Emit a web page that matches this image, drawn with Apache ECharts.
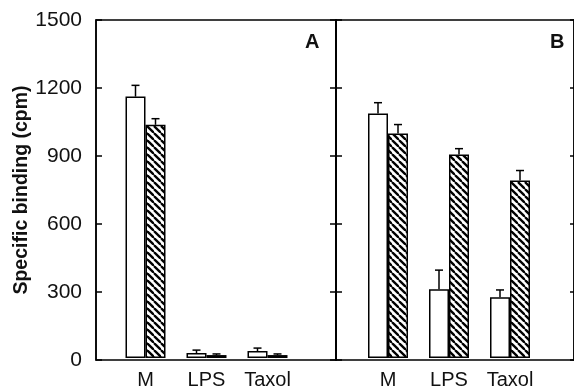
<!DOCTYPE html>
<html>
<head>
<meta charset="utf-8">
<script src="https://cdn.jsdelivr.net/npm/echarts@6/dist/echarts.min.js"></script>
<style>
    html, body { margin: 0; padding: 0; background: #fff; }
    #chart { width: 574px; height: 390px; }
</style>
</head>
<body>
<div id="chart"></div>
<script>
    // categories and values (cpm)
    const cats = ['M', 'LPS', 'Taxol'];
    const yTicks = [0, 300, 600, 900, 1200, 1500];

    const aOpen = [1160, 22, 31];
    const aOpenErr = [50, 13, 13];
    const aHatch = [1035, 13, 13];
    const aHatchErr = [27, 5, 5];

    const bOpen = [1085, 305, 270];
    const bOpenErr = [48, 85, 32];
    const bHatch = [996, 903, 788];
    const bHatchErr = [40, 26, 44];

    const font = 'Liberation Sans, Arial, sans-serif';
    const ink = '#111';

    // diagonal hatch pattern
    function hatch() {
        const c = document.createElement('canvas');
        c.width = 7; c.height = 7;
        const g = c.getContext('2d');
        g.fillStyle = '#fff';
        g.fillRect(0, 0, 7, 7);
        g.strokeStyle = '#000';
        g.lineWidth = 2.3;
        for (let k = -1; k <= 1; k++) {
            g.beginPath();
            g.moveTo(k * 7, 0);
            g.lineTo(k * 7 + 7, 7);
            g.stroke();
        }
        return c;
    }
    const hatchFill = { image: hatch(), repeat: 'repeat' };

    function errSeries(xi, yi, vals, errs, off) {
        return {
            type: 'custom',
            xAxisIndex: xi,
            yAxisIndex: yi,
            z: 1,
            data: vals.map((v, i) => [i, v, errs[i]]),
            encode: { x: 0, y: 1 },
            renderItem: function (params, api) {
                const i = api.value(0);
                const v = api.value(1);
                const e = api.value(2);
                const p0 = api.coord([i, v]);
                const p1 = api.coord([i, v + e]);
                const x = p0[0] + off;
                const st = { stroke: '#000', lineWidth: 1.5 };
                return {
                    type: 'group',
                    children: [
                        { type: 'line', shape: { x1: x, y1: p0[1], x2: x, y2: p1[1] }, style: st },
                        { type: 'line', shape: { x1: x - 4, y1: p1[1], x2: x + 4, y2: p1[1] }, style: st }
                    ]
                };
            }
        };
    }

    function barSeries(xi, yi, vals, fill) {
        return {
            type: 'bar',
            xAxisIndex: xi,
            yAxisIndex: yi,
            data: vals,
            barWidth: 20,
            barGap: '0%',
            z: 2,
            itemStyle: { color: fill, borderColor: '#000', borderWidth: 1.5 }
        };
    }

    const frameY = {
        type: 'value', min: yTicks[0], max: yTicks[yTicks.length - 1], interval: 300,
        splitLine: { show: false },
        axisLine: { show: true, lineStyle: { color: '#000', width: 1.5 } },
        axisTick: { show: true, inside: true, length: 6, lineStyle: { color: '#000', width: 1.5 } },
        axisLabel: { show: false }
    };
    const hiddenY = {
        type: 'value', min: yTicks[0], max: yTicks[yTicks.length - 1], show: false,
        splitLine: { show: false }
    };
    const barX = {
        type: 'category', data: cats,
        axisLine: { show: false }, axisTick: { show: false },
        axisLabel: { color: ink, fontSize: 20, fontFamily: font, margin: 12 }
    };

    const chart = echarts.init(document.getElementById('chart'));
    chart.setOption({
        animation: false,
        backgroundColor: '#fff',
        grid: [
            { left: 96, right: 238, top: 20, bottom: 30, show: true, borderColor: '#000', borderWidth: 1.5 },
            { left: 336, right: -2, top: 20, bottom: 30, show: true, borderColor: '#000', borderWidth: 1.5 },
            { left: 115, width: 183, top: 20, bottom: 30 },
            { left: 357.5, width: 183, top: 20, bottom: 30 }
        ],
        xAxis: [
            { gridIndex: 0, type: 'category', data: [], show: false },
            { gridIndex: 1, type: 'category', data: [], show: false },
            Object.assign({ gridIndex: 2 }, barX),
            Object.assign({ gridIndex: 3 }, barX)
        ],
        yAxis: [
            Object.assign({}, frameY, {
                gridIndex: 0, position: 'left',
                axisLabel: { show: true, color: ink, fontSize: 21, fontFamily: font, margin: 14, formatter: v => String(v) },
                name: 'Specific binding (cpm)',
                nameLocation: 'middle',
                nameGap: 63,
                nameTextStyle: { color: ink, fontSize: 19.5, fontWeight: 'bold', fontFamily: font }
            }),
            Object.assign({}, frameY, { gridIndex: 0, position: 'right' }),
            Object.assign({}, frameY, { gridIndex: 1, position: 'left' }),
            Object.assign({}, frameY, { gridIndex: 1, position: 'right', axisTick: { show: true, inside: true, length: 4, lineStyle: { color: '#000', width: 1.5 } } }),
            Object.assign({ gridIndex: 2 }, hiddenY),
            Object.assign({ gridIndex: 3 }, hiddenY)
        ],
        series: [
            barSeries(2, 4, aOpen, '#fff'),
            barSeries(2, 4, aHatch, hatchFill),
            barSeries(3, 5, bOpen, '#fff'),
            barSeries(3, 5, bHatch, hatchFill),
            errSeries(2, 4, aOpen, aOpenErr, -10),
            errSeries(2, 4, aHatch, aHatchErr, 10),
            errSeries(3, 5, bOpen, bOpenErr, -10),
            errSeries(3, 5, bHatch, bHatchErr, 10)
        ],
        graphic: [
            { type: 'text', left: 305, top: 32, style: { text: 'A', font: 'bold 20px ' + font, fill: ink } },
            { type: 'text', left: 550, top: 32, style: { text: 'B', font: 'bold 20px ' + font, fill: ink } }
        ]
    });
</script>
</body>
</html>
